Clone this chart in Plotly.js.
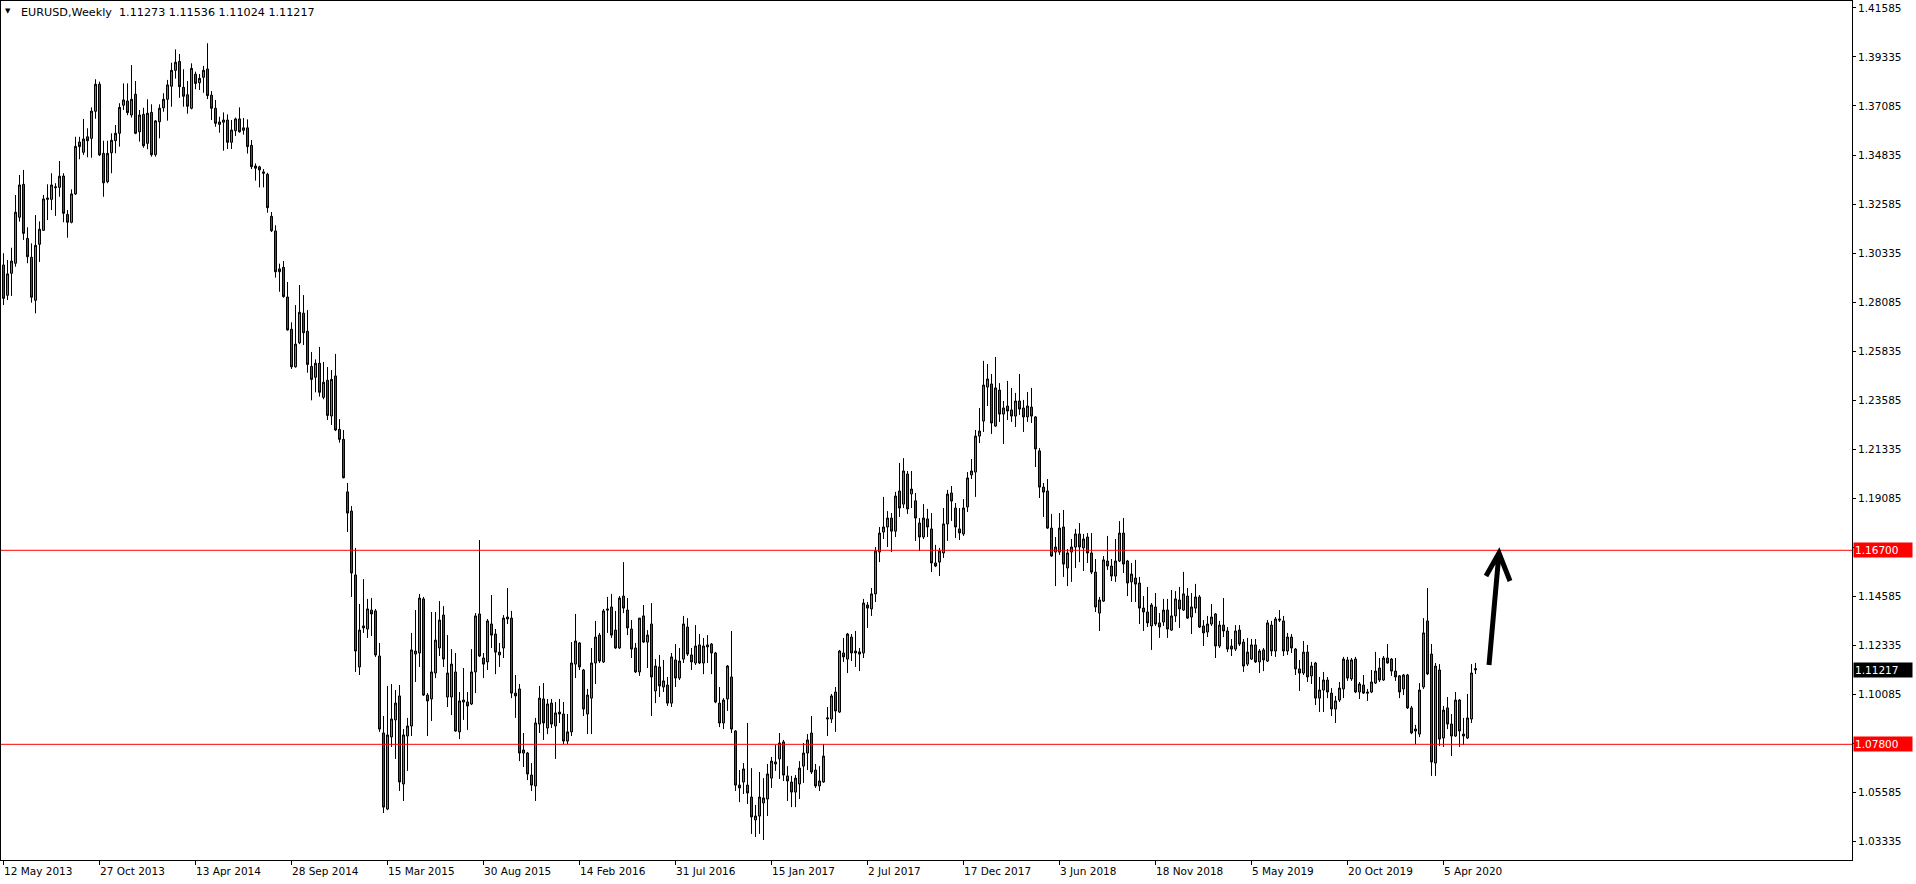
<!DOCTYPE html>
<html><head><meta charset="utf-8">
<script src="https://cdn.plot.ly/plotly-3.0.1.min.js"></script>
<style>html,body{margin:0;padding:0;background:#fff;overflow:hidden}#chart{width:1916px;height:884px}</style>
</head><body><div id="chart"></div>
<script>
const symbolTitle = 'EURUSD,Weekly';
const firstWeek = '2013-05-12';
const openP = [
1.2979,1.2840,1.2941,1.2987,1.3198,1.3349,1.3101,1.3014,1.2817,1.3074,
1.3138,1.3280,1.3280,1.3338,1.3335,1.3387,1.3211,1.3175,1.3305,1.3543,
1.3496,1.3567,1.3560,1.3684,1.3808,1.3491,1.3361,1.3494,1.3549,1.3583,
1.3712,1.3731,1.3667,1.3762,1.3590,1.3670,1.3537,1.3679,1.3485,1.3636,
1.3700,1.3739,1.3799,1.3872,1.3913,1.3794,1.3760,1.3698,1.3854,1.3815,
1.3840,1.3878,1.3758,1.3698,1.3624,1.3634,1.3644,1.3542,1.3595,1.3649,
1.3597,1.3608,1.3528,1.3433,1.3429,1.3406,1.3395,1.3202,1.3135,1.2961,
1.2968,1.2832,1.2684,1.2512,1.2622,1.2758,1.2675,1.2514,1.2464,1.2528,
1.2372,1.2450,1.2286,1.2470,1.2225,1.2179,1.1938,1.1850,1.1557,1.1135,
1.1314,1.1309,1.1396,1.1392,1.1185,1.0832,1.0483,1.0814,1.0892,1.1002,
1.0598,1.0818,1.0864,1.1194,1.1199,1.1447,1.1006,1.0988,1.1107,1.1222,
1.1373,1.0997,1.0997,1.1112,1.0837,1.0974,1.0974,1.0965,1.1112,1.1378,
1.1176,1.1158,1.1332,1.1286,1.1190,1.1222,1.1364,1.1359,1.1015,1.1034,
1.0740,1.0740,1.0639,1.0589,1.0873,1.0988,1.0855,1.0969,1.0864,1.0928,
1.0919,1.0795,1.0837,1.1148,1.1245,1.1121,1.0919,1.0992,1.1153,1.1281,
1.1158,1.1401,1.1410,1.1304,1.1222,1.1460,1.1396,1.1309,1.1222,1.1112,
1.1369,1.1249,1.1332,1.1025,1.1135,1.1043,1.1052,1.0969,1.1167,1.1084,
1.1171,1.1318,1.1190,1.1153,1.1236,1.1153,1.1227,1.1240,1.1199,1.0969,
1.0878,1.0988,1.1089,1.0841,1.0593,1.0607,1.0593,1.0538,1.0433,1.0451,
1.0511,1.0529,1.0625,1.0690,1.0713,1.0791,1.0635,1.0607,1.0561,1.0598,
1.0680,1.0740,1.0832,1.0662,1.0589,1.0607,1.0896,1.0896,1.1020,1.0928,
1.1199,1.1171,1.1272,1.1208,1.1204,1.1199,1.1419,1.1401,1.1470,1.1662,
1.1754,1.1777,1.1818,1.1758,1.1942,1.1882,1.2020,1.1929,1.1897,1.1795,
1.1731,1.1814,1.1768,1.1612,1.1616,1.1658,1.1791,1.1933,1.1864,1.1768,
1.1745,1.1869,1.2016,1.2029,1.2194,1.2263,1.2419,1.2433,1.2240,1.2405,
1.2295,1.2332,1.2314,1.2286,1.2355,1.2323,1.2282,1.2327,1.2282,1.2126,
1.1960,1.1942,1.1772,1.1662,1.1662,1.1777,1.1589,1.1662,1.1685,1.1745,
1.1681,1.1731,1.1658,1.1570,1.1382,1.1437,1.1621,1.1598,1.1552,1.1621,
1.1749,1.1621,1.1525,1.1543,1.1520,1.1405,1.1387,1.1323,1.1410,1.1337,
1.1341,1.1396,1.1304,1.1369,1.1442,1.1396,1.1460,1.1364,1.1405,1.1456,
1.1323,1.1295,1.1332,1.1378,1.1231,1.1327,1.1300,1.1231,1.1217,1.1304,
1.1249,1.1148,1.1171,1.1236,1.1158,1.1213,1.1162,1.1327,1.1208,1.1355,
1.1346,1.1208,1.1272,1.1217,1.1126,1.1107,1.1203,1.1094,1.1153,1.0992,
1.1029,1.1075,1.1015,1.0942,1.0983,1.1034,1.1167,1.1080,1.1171,1.1020,
1.1052,1.1020,1.1020,1.1061,1.1130,1.1075,1.1176,1.1171,1.1116,1.1094,
1.1034,1.1098,1.0947,1.0850,1.0827,1.1043,1.1346,1.1194,1.0694,1.1121,
1.0809,1.0947,1.0873,1.0818,1.0983,1.0827,1.0809,1.0896,1.11273];
const highP = [
1.3033,1.3002,1.3058,1.3300,1.3392,1.3415,1.3152,1.3078,1.3208,1.3179,
1.3300,1.3349,1.3400,1.3354,1.3456,1.3400,1.3231,1.3326,1.3567,1.3567,
1.3649,1.3606,1.3702,1.3831,1.3820,1.3549,1.3549,1.3583,1.3621,1.3721,
1.3812,1.3812,1.3896,1.3823,1.3690,1.3700,1.3739,1.3716,1.3644,1.3716,
1.3767,1.3828,1.3907,1.3968,1.3947,1.3877,1.3823,1.3904,1.3866,1.3855,
1.3892,1.3996,1.3777,1.3736,1.3659,1.3679,1.3670,1.3644,1.3655,1.3702,
1.3653,1.3647,1.3552,1.3445,1.3434,1.3419,1.3402,1.3222,1.3161,1.2985,
1.2997,1.2901,1.2716,1.2795,1.2887,1.2841,1.2772,1.2580,1.2546,1.2603,
1.2534,1.2511,1.2497,1.2571,1.2272,1.2222,1.1979,1.1873,1.1681,1.1424,
1.1538,1.1447,1.1451,1.1401,1.1245,1.0910,1.1048,1.1057,1.1029,1.1052,
1.0850,1.0901,1.1291,1.1396,1.1470,1.1456,1.1015,1.1387,1.1387,1.1437,
1.1414,1.1281,1.1217,1.1199,1.1020,1.1130,1.1020,1.1217,1.1382,1.1717,
1.1199,1.1355,1.1465,1.1309,1.1245,1.1373,1.1497,1.1392,1.1098,1.1057,
1.0832,1.0745,1.0694,1.0901,1.1048,1.1061,1.0988,1.0988,1.0974,1.0988,
1.0974,1.0919,1.1249,1.1378,1.1249,1.1126,1.1034,1.1222,1.1346,1.1291,
1.1401,1.1456,1.1470,1.1392,1.1460,1.1616,1.1451,1.1350,1.1245,1.1359,
1.1419,1.1304,1.1428,1.1171,1.1190,1.1167,1.1089,1.1199,1.1240,1.1222,
1.1369,1.1359,1.1222,1.1327,1.1286,1.1268,1.1281,1.1245,1.1204,1.1043,
1.0992,1.1144,1.1300,1.0845,1.0662,1.0694,1.0878,1.0671,1.0502,1.0653,
1.0625,1.0690,1.0722,1.0777,1.0832,1.0800,1.0680,1.0635,1.0639,1.0703,
1.0786,1.0827,1.0910,1.0690,1.0680,1.0781,1.0951,1.1011,1.1043,1.1213,
1.1268,1.1291,1.1286,1.1300,1.1222,1.1447,1.1433,1.1497,1.1685,1.1777,
1.1915,1.1850,1.1841,1.1938,1.2071,1.2093,1.2034,1.2034,1.1933,1.1818,
1.1882,1.1860,1.1841,1.1695,1.1681,1.1864,1.1947,1.1965,1.1887,1.1864,
1.1905,1.2029,1.2089,1.2222,1.2323,1.2539,1.2525,1.2479,1.2557,1.2437,
1.2355,1.2447,1.2415,1.2392,1.2479,1.2360,1.2396,1.2415,1.2286,1.2139,
1.1979,1.1997,1.1837,1.1731,1.1841,1.1855,1.1676,1.1722,1.1768,1.1795,
1.1745,1.1749,1.1749,1.1630,1.1456,1.1644,1.1736,1.1630,1.1722,1.1804,
1.1818,1.1626,1.1612,1.1626,1.1548,1.1460,1.1502,1.1428,1.1474,1.1382,
1.1447,1.1447,1.1488,1.1483,1.1502,1.1571,1.1497,1.1474,1.1516,1.1465,
1.1350,1.1369,1.1424,1.1382,1.1346,1.1451,1.1318,1.1263,1.1327,1.1327,
1.1263,1.1268,1.1263,1.1263,1.1217,1.1222,1.1350,1.1346,1.1364,1.1396,
1.1369,1.1291,1.1286,1.1222,1.1167,1.1254,1.1236,1.1158,1.1158,1.1089,
1.1112,1.1089,1.1038,1.1002,1.1066,1.1181,1.1181,1.1176,1.1181,1.1066,
1.1098,1.1034,1.1121,1.1204,1.1176,1.1185,1.1240,1.1176,1.1176,1.1098,
1.1103,1.1103,1.0956,1.0869,1.1061,1.1359,1.1497,1.1240,1.1153,1.1148,
1.0956,1.0997,1.0919,1.1020,1.0988,1.0901,1.1011,1.1148,1.11536];
const lowP = [
1.2795,1.2818,1.2837,1.2971,1.3178,1.3094,1.2987,1.2806,1.2757,1.2993,
1.3136,1.3185,1.3231,1.3204,1.3292,1.3175,1.3104,1.3170,1.3300,1.3464,
1.3484,1.3473,1.3471,1.3650,1.3479,1.3292,1.3354,1.3400,1.3491,1.3522,
1.3690,1.3666,1.3655,1.3579,1.3545,1.3517,1.3510,1.3476,1.3476,1.3560,
1.3682,1.3641,1.3705,1.3834,1.3746,1.3705,1.3673,1.3693,1.3785,1.3782,
1.3769,1.3740,1.3644,1.3613,1.3586,1.3503,1.3511,1.3511,1.3571,1.3586,
1.3577,1.3490,1.3419,1.3366,1.3335,1.3335,1.3219,1.3130,1.2921,1.2856,
1.2829,1.2678,1.2502,1.2508,1.2616,1.2612,1.2485,1.2358,1.2395,1.2375,
1.2363,1.2268,1.2245,1.2217,1.2164,1.2000,1.1754,1.1456,1.1112,1.1098,
1.1291,1.1268,1.1277,1.1181,1.0837,1.0465,1.0478,1.0768,1.0713,1.0566,
1.0520,1.0658,1.0818,1.1066,1.1135,1.1002,1.0818,1.0887,1.1084,1.1185,
1.1135,1.0951,1.0914,1.0838,1.0804,1.0892,1.0846,1.0960,1.1015,1.1181,
1.1084,1.1121,1.1222,1.1102,1.1135,1.1176,1.1332,1.0992,1.0901,1.0703,
1.0676,1.0616,1.0566,1.0520,1.0832,1.0800,1.0827,1.0855,1.0713,1.0878,
1.0781,1.0781,1.0818,1.1084,1.1121,1.0910,1.0827,1.0827,1.1057,1.1153,
1.1153,1.1291,1.1268,1.1218,1.1218,1.1382,1.1281,1.1176,1.1107,1.1094,
1.1245,1.1130,1.0910,1.0969,1.0997,1.1020,1.0956,1.0951,1.1043,1.1075,
1.1153,1.1185,1.1121,1.1144,1.1148,1.1102,1.1153,1.1102,1.0969,1.0859,
1.0850,1.0933,1.0832,1.0566,1.0515,1.0552,1.0506,1.0369,1.0355,1.0369,
1.0341,1.0451,1.0580,1.0658,1.0621,1.0612,1.0520,1.0492,1.0492,1.0529,
1.0603,1.0662,1.0644,1.0580,1.0566,1.0603,1.0818,1.0878,1.0837,1.0924,
1.1158,1.1107,1.1162,1.1135,1.1116,1.1176,1.1314,1.1369,1.1433,1.1616,
1.1722,1.1685,1.1662,1.1731,1.1823,1.1864,1.1837,1.1864,1.1713,1.1667,
1.1722,1.1731,1.1570,1.1593,1.1552,1.1635,1.1713,1.1805,1.1726,1.1717,
1.1736,1.1846,1.1997,1.1915,1.2162,1.2213,1.2332,1.2204,1.2236,1.2259,
1.2158,1.2268,1.2259,1.2236,1.2291,1.2213,1.2259,1.2254,1.2052,1.1910,
1.1823,1.1768,1.1640,1.1506,1.1649,1.1548,1.1506,1.1525,1.1589,1.1616,
1.1575,1.1612,1.1561,1.1387,1.1300,1.1433,1.1580,1.1529,1.1525,1.1616,
1.1566,1.1460,1.1433,1.1433,1.1332,1.1300,1.1318,1.1213,1.1323,1.1268,
1.1323,1.1268,1.1300,1.1341,1.1314,1.1392,1.1355,1.1286,1.1382,1.1314,
1.1231,1.1272,1.1323,1.1176,1.1222,1.1272,1.1203,1.1185,1.1208,1.1231,
1.1112,1.1139,1.1167,1.1153,1.1107,1.1116,1.1158,1.1185,1.1181,1.1341,
1.1185,1.1190,1.1199,1.1098,1.1025,1.1098,1.1066,1.1057,1.0960,1.0928,
1.0928,1.0992,1.0910,1.0878,1.0974,1.0992,1.1071,1.1071,1.1015,1.0988,
1.1011,1.0979,1.1015,1.1057,1.1066,1.1071,1.1150,1.1094,1.1071,1.0992,
1.1006,1.0942,1.0827,1.0781,1.0813,1.1034,1.1098,1.0635,1.0635,1.0772,
1.0768,1.0850,1.0726,1.0814,1.0768,1.0777,1.0804,1.0878,1.11024];
const closeP = [
1.2826,1.2938,1.2997,1.3221,1.3346,1.3124,1.3017,1.2831,1.3069,1.3143,
1.3282,1.3286,1.3346,1.3334,1.3386,1.3216,1.3175,1.3305,1.3523,1.3522,
1.3557,1.3549,1.3685,1.3808,1.3484,1.3356,1.3491,1.3551,1.3583,1.3702,
1.3736,1.3678,1.3739,1.3583,1.3667,1.3526,1.3675,1.3485,1.3640,1.3698,
1.3739,1.3805,1.3872,1.3909,1.3797,1.3753,1.3707,1.3881,1.3812,1.3835,
1.3872,1.3756,1.3698,1.3629,1.3635,1.3644,1.3542,1.3598,1.3649,1.3590,
1.3608,1.3522,1.3430,1.3423,1.3415,1.3400,1.3242,1.3136,1.2948,1.2948,
1.2834,1.2681,1.2512,1.2616,1.2762,1.2668,1.2523,1.2454,1.2528,1.2395,
1.2441,1.2289,1.2454,1.2222,1.2179,1.2003,1.1841,1.1566,1.1208,1.1304,
1.1323,1.1401,1.1378,1.1190,1.0850,1.0492,1.0823,1.0896,1.0969,1.0607,
1.0823,1.0864,1.1213,1.1208,1.1451,1.1006,1.0979,1.1112,1.1258,1.1350,
1.1171,1.1107,1.1148,1.0841,1.0979,1.0983,1.0956,1.1112,1.1369,1.1185,
1.1148,1.1346,1.1281,1.1203,1.1203,1.1359,1.1355,1.1015,1.1002,1.0740,
1.0754,1.0644,1.0593,1.0878,1.0992,1.0878,1.0965,1.0873,1.0924,1.0919,
1.0795,1.0837,1.1153,1.1254,1.1135,1.0942,1.1006,1.1153,1.1272,1.1162,
1.1392,1.1396,1.1281,1.1222,1.1451,1.1405,1.1314,1.1217,1.1112,1.1359,
1.1249,1.1281,1.1089,1.1139,1.1048,1.1071,1.0969,1.1181,1.1084,1.1162,
1.1332,1.1194,1.1158,1.1231,1.1153,1.1231,1.1236,1.1199,1.0974,1.0878,
1.0983,1.1139,1.0850,1.0593,1.0580,1.0667,1.0557,1.0447,1.0451,1.0538,
1.0534,1.0644,1.0703,1.0699,1.0786,1.0639,1.0612,1.0561,1.0625,1.0671,
1.0740,1.0800,1.0653,1.0589,1.0612,1.0726,1.0901,1.1002,1.0933,1.1208,
1.1181,1.1286,1.1199,1.1199,1.1194,1.1428,1.1405,1.1470,1.1667,1.1749,
1.1777,1.1818,1.1758,1.1919,1.1864,1.2034,1.1860,1.1951,1.1818,1.1731,
1.1818,1.1777,1.1612,1.1598,1.1667,1.1791,1.1928,1.1896,1.1777,1.1750,
1.1864,1.2002,1.2034,1.2194,1.2217,1.2428,1.2456,1.2254,1.2415,1.2295,
1.2323,1.2309,1.2286,1.2355,1.2318,1.2282,1.2332,1.2286,1.2135,1.1960,
1.1937,1.1772,1.1644,1.1685,1.1772,1.1607,1.1658,1.1685,1.1745,1.1685,
1.1722,1.1658,1.1570,1.1410,1.1442,1.1626,1.1598,1.1552,1.1621,1.1749,
1.1607,1.1520,1.1561,1.1515,1.1405,1.1387,1.1337,1.1419,1.1332,1.1318,
1.1396,1.1309,1.1369,1.1447,1.1401,1.1470,1.1359,1.1410,1.1456,1.1318,
1.1291,1.1332,1.1364,1.1231,1.1327,1.1300,1.1217,1.1217,1.1300,1.1240,
1.1139,1.1203,1.1236,1.1158,1.1208,1.1167,1.1337,1.1208,1.1355,1.1350,
1.1208,1.1272,1.1222,1.1126,1.1107,1.1203,1.1089,1.1139,1.0992,1.1029,
1.1075,1.1020,1.0942,1.0979,1.1038,1.1171,1.1084,1.1167,1.1020,1.1057,
1.1015,1.1015,1.1066,1.1116,1.1075,1.1176,1.1153,1.1116,1.1089,1.1020,
1.1098,1.0947,1.0832,1.0841,1.1029,1.1291,1.1103,1.0699,1.1139,1.0804,
1.0937,1.0873,1.0818,1.0983,1.0841,1.0818,1.0901,1.1107,1.11217];
const yTickVals = [1.03335,1.05585,1.07835,1.10085,1.12335,1.14585,1.16835,1.19085,1.21335,1.23585,1.25835,1.28085,1.30335,1.32585,1.34835,1.37085,1.39335,1.41585];
const xTickDates = ['2013-05-12','2013-10-27','2014-04-13','2014-09-28','2015-03-15','2015-08-30','2016-02-14','2016-07-31','2017-01-15','2017-07-02','2017-12-17','2018-06-03','2018-11-18','2019-05-05','2019-10-20','2020-04-05'];
const xTickText = ['12 May 2013','27 Oct 2013','13 Apr 2014','28 Sep 2014','15 Mar 2015','30 Aug 2015','14 Feb 2016','31 Jul 2016','15 Jan 2017','2 Jul 2017','17 Dec 2017','3 Jun 2018','18 Nov 2018','5 May 2019','20 Oct 2019','5 Apr 2020'];
const levelLines = [1.16700, 1.07800];
const lastBar = 368;

// ---- layout constants (pixels) ----
const W = 1916, H = 884, ML = 1, MR = 64, MT = 1, MB = 24;
const PW = W - ML - MR, PH = H - MT - MB;
const FONT = 'DejaVu Sans, Verdana, sans-serif';
const DAY = 864e5, WEEK = 7 * DAY;
const BAR_PX = 4;                       // pixels per weekly bar
const FIRST_CENTER = 3.5;               // pixel centre of first bar
const t0 = Date.parse(firstWeek + 'T00:00:00Z');
const weeks = openP.map((_, i) => new Date(t0 + i * WEEK).toISOString().slice(0, 10));
const fmt = ms => new Date(ms).toISOString().replace('T', ' ').replace('Z', '');
const r0 = t0 - ((FIRST_CENTER - ML) / BAR_PX) * WEEK;
const xRange = [fmt(r0), fmt(r0 + (PW / BAR_PX) * WEEK)];
const yRange = [1.02493, 1.41900];
const px = x => (x - ML) / PW;
const py = y => (MT + PH - y) / PH;

const trace = {
  type: 'candlestick', x: weeks, open: openP, high: highP, low: lowP, close: closeP,
  increasing: { line: { color: '#000000', width: 1 }, fillcolor: '#3aa53a' },
  decreasing: { line: { color: '#000000', width: 1 }, fillcolor: '#d41515' },
  whiskerwidth: 0, hoverinfo: 'skip', showlegend: false
};

const annotations = [];
xTickDates.forEach((d, k) => annotations.push({
  x: d, xref: 'x', y: 0, yref: 'paper', yanchor: 'top', xanchor: 'left', xshift: -2, yshift: -3,
  text: xTickText[k], showarrow: false, font: { family: FONT, size: 10.5, color: '#000' }
}));
levelLines.forEach(v => annotations.push({
  x: 1, xref: 'paper', xanchor: 'left', xshift: 1, y: v, yref: 'y', yanchor: 'middle',
  text: v.toFixed(5), showarrow: false, bgcolor: '#ff0000', width: 56, height: 12, align: 'left',
  borderpad: 1, font: { family: FONT, size: 10.5, color: '#ffffff' }
}));
annotations.push({
  x: 1, xref: 'paper', xanchor: 'left', xshift: 1, y: closeP[lastBar], yref: 'y', yanchor: 'middle',
  text: closeP[lastBar].toFixed(5), showarrow: false, bgcolor: '#000000', width: 56, height: 12, align: 'left',
  borderpad: 1, font: { family: FONT, size: 10.5, color: '#ffffff' }
});
annotations.push({
  x: px(21), xref: 'paper', xanchor: 'left', xshift: -2, y: py(12.5), yref: 'paper', yanchor: 'middle',
  text: symbolTitle + '\u00a0\u00a0' + [openP[lastBar], highP[lastBar], lowP[lastBar], closeP[lastBar]].map(v => v.toFixed(5)).join(' '),
  showarrow: false, font: { family: FONT, size: 11.2, color: '#000' }
});
annotations.push({
  x: px(7.5), xref: 'paper', xanchor: 'center', y: py(11), yref: 'paper', yanchor: 'middle',
  text: '\u25BC', showarrow: false, font: { family: FONT, size: 7, color: '#000' }
});

const shapes = levelLines.map(v => ({
  type: 'line', xref: 'paper', x0: 0, x1: 1, yref: 'y', y0: v, y1: v,
  line: { color: '#ff0000', width: 1 }, layer: 'above'
}));
const P = (x, y) => px(x) + ',' + py(y);
shapes.push({
  type: 'path', xref: 'paper', yref: 'paper', layer: 'above',
  path: 'M' + P(1489, 665) + 'L' + P(1499, 553) + 'M' + P(1486, 576) + 'L' + P(1499, 553) + 'L' + P(1510, 581),
  line: { color: '#000000', width: 5 }
});

const layout = {
  width: W, height: H, autosize: false,
  margin: { l: ML, r: MR, t: MT, b: MB, pad: 0 },
  paper_bgcolor: '#ffffff', plot_bgcolor: '#ffffff',
  boxgap: 0.5, boxgroupgap: 0,
  xaxis: {
    type: 'date', range: xRange, rangeslider: { visible: false }, showgrid: false, zeroline: false,
    showline: true, mirror: true, linecolor: '#000', linewidth: 1,
    tickmode: 'array', tickvals: xTickDates, ticks: 'outside', ticklen: 4, tickcolor: '#000', showticklabels: false
  },
  yaxis: {
    side: 'right', range: yRange, showgrid: false, zeroline: false,
    showline: true, mirror: true, linecolor: '#000', linewidth: 1,
    tickmode: 'array', tickvals: yTickVals, ticktext: yTickVals.map(v => v.toFixed(5)),
    ticks: 'outside', ticklen: 3, tickcolor: '#000',
    tickfont: { family: FONT, size: 10.5, color: '#000' }
  },
  annotations: annotations, shapes: shapes, showlegend: false
};
Plotly.newPlot('chart', [trace], layout, { staticPlot: true, displayModeBar: false });
</script>
</body></html>
